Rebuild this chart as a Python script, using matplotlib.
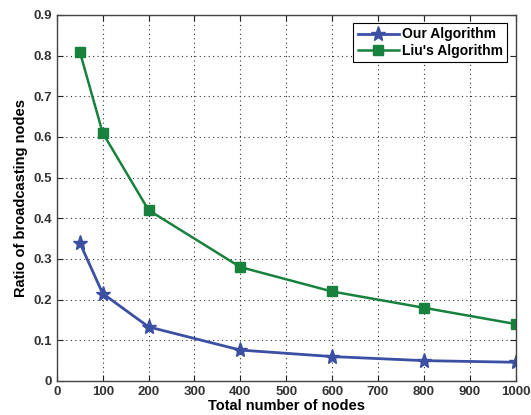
import matplotlib
matplotlib.use('Agg')
import matplotlib.pyplot as plt

plt.rcParams['font.family'] = ['Liberation Sans', 'DejaVu Sans']

nodes = [50, 100, 200, 400, 600, 800, 1000]
ours = [0.34, 0.215, 0.133, 0.076, 0.060, 0.050, 0.046]
liu = [0.81, 0.61, 0.42, 0.28, 0.22, 0.18, 0.14]

fig = plt.figure(figsize=(5.31, 4.15), dpi=100)
ax = fig.add_axes([0.107, 0.082, 0.864, 0.882])

ax.plot(nodes, ours, color='#3b4fa3', lw=2, marker='*', ms=11, label='Our Algorithm')
ax.plot(nodes, liu, color='#17813d', lw=1.8, marker='s', ms=7, label="Liu's Algorithm")

ax.set_xlim(0, 1000)
ax.set_ylim(0, 0.9)
ax.set_xticks(range(0, 1001, 100))
ax.set_yticks([i / 10 for i in range(10)])
ax.set_yticklabels(['0'] + ['%.1f' % (i / 10) for i in range(1, 10)])
ax.grid(True, color='#333333', linestyle=(0, (1, 3)), linewidth=0.8)
ax.tick_params(direction='in', labelsize=9.5, colors='#222222', length=4, top=True, right=True)
for lab in ax.get_xticklabels() + ax.get_yticklabels():
    lab.set_fontweight('bold')
    lab.set_color('#333333')
for s in ax.spines.values():
    s.set_color('#444444')
    s.set_linewidth(1.0)

ax.set_xlabel('Total number of nodes', fontsize=10.5, fontweight='bold', labelpad=1)
ax.set_ylabel('Ratio of broadcasting nodes', fontsize=10.5, fontweight='bold', labelpad=4)

leg = ax.legend(loc='upper right', prop={'weight': 'bold', 'size': 10},
                fancybox=False, edgecolor='black', framealpha=1, borderpad=0.3,
                handlelength=3.0, handletextpad=0.2, borderaxespad=0.6, labelspacing=0.15)
leg.get_frame().set_linewidth(0.8)

fig.savefig('out.png', dpi=100)
